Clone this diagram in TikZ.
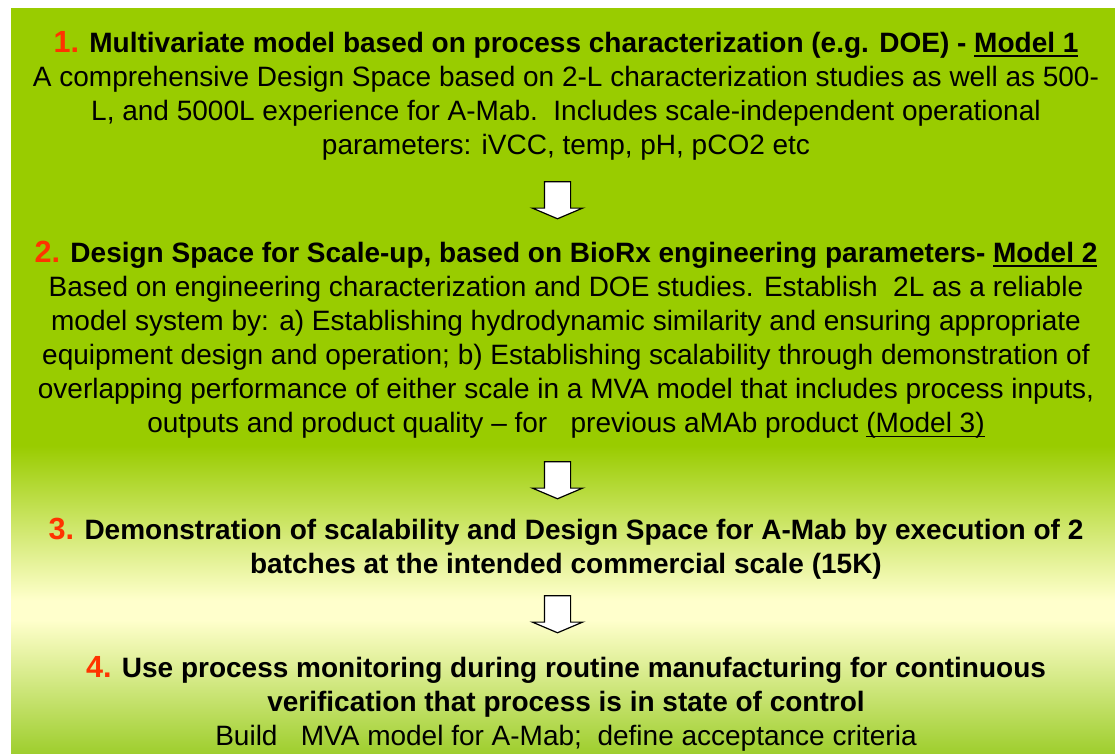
\documentclass[tikz,border=0pt]{standalone}
\usepackage{fontspec}
\setmainfont{Liberation Sans}
\usepackage{tikz}
\usetikzlibrary{shapes.arrows}
\definecolor{stagegreen}{RGB}{153,204,0}
\definecolor{stagegreenlow}{RGB}{158,206,45}
\definecolor{stagecream}{RGB}{255,255,204}
\definecolor{stagered}{RGB}{255,51,0}
\pgfdeclareverticalshading{stageback}{100bp}{color(0bp)=(stagegreenlow); color(25bp)=(stagegreenlow);
  color(34bp)=(stagecream); color(35.3bp)=(stagecream); color(45.7bp)=(stagegreen);
  color(75bp)=(stagegreen); color(100bp)=(stagegreen)}
\tikzstyle{stage}=[align=center,inner sep=0pt,anchor=north,font=\fontsize{14pt}{17pt}\selectfont]
\tikzstyle{blockarrow}=[single arrow,draw=black,fill=white,line width=0.6pt,shape border rotate=270,
  inner sep=6.25pt,minimum height=18.5pt,single arrow head extend=6pt,single arrow tip angle=134]
\newcommand{\stepno}[1]{{\fontsize{15.3pt}{17pt}\selectfont\color{stagered}#1}}
\newcommand{\modelline}[2][1pt]{\setbox0\hbox{#2}\rlap{\rule[-2.2pt]{\wd0}{#1}}\box0}

\begin{document}
\begin{tikzpicture}[x=0.5pt,y=0.5pt]
    \useasboundingbox (0,0) rectangle (1115,754);
    % Background panel
    \shade[shading=stageback] (11,0) rectangle (1115,745);
    % The four stages
    \node[stage] (stage1) at (566,723) {\textbf{\stepno{1.} Multivariate model based on process characterization (e.g. DOE) - \modelline{Model 1}}\\
        A comprehensive Design Space based on 2-L characterization studies as well as 500-\\
        L, and 5000L experience for A-Mab.\ \ Includes scale-independent operational\\
        parameters: iVCC, temp, pH, pCO2 etc};
    \node[stage] (stage2) at (566,513) {\textbf{\stepno{2.} Design Space for Scale-up, based on BioRx engineering parameters- \modelline{Model 2}}\\
        Based on engineering characterization and DOE studies. Establish\ \ 2L as a reliable\\
        model system by: a) Establishing hydrodynamic similarity and ensuring appropriate\\
        equipment design and operation; b) Establishing scalability through demonstration of\\
        overlapping performance of either scale in a MVA model that includes process inputs,\\
        outputs and product quality -- for\ \ \ previous aMAb product \modelline[0.7pt]{(Model 3)}};
    \node[stage] (stage3) at (566,236) {\textbf{\stepno{3.} Demonstration of scalability and Design Space for A-Mab by execution of 2}\\
        \textbf{batches at the intended commercial scale (15K)}};
    \node[stage] (stage4) at (566,98) {\textbf{\stepno{4.} Use process monitoring during routine manufacturing for continuous}\\
        \textbf{verification that process is in state of control}\\
        Build\ \ \ MVA model for A-Mab;\ \ define acceptance criteria};
    % Block arrows between the stages
    \foreach \pos/\name in {{(557.5,556.5)/flow12}, {(557.5,276.5)/flow23}, {(557.5,142.5)/flow34}}
        \node[blockarrow] (\name) at \pos {};
\end{tikzpicture}
\end{document}
